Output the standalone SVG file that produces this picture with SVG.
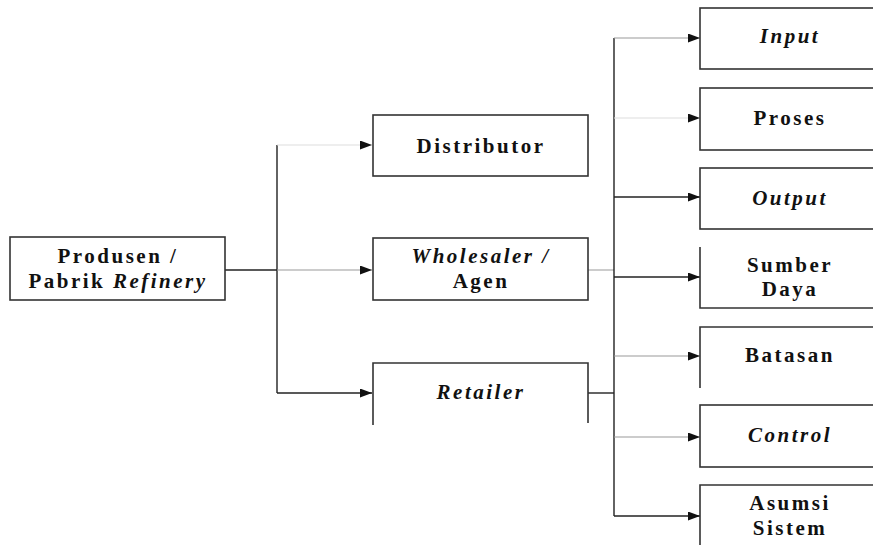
<svg xmlns="http://www.w3.org/2000/svg" width="873" height="545" viewBox="0 0 873 545">
<style>
.box{fill:#fff;stroke:#333;stroke-width:1.6}
.open{fill:none;stroke:#333;stroke-width:1.6}
.t{font-family:"Liberation Serif","Times New Roman",serif;font-weight:bold;font-size:21px;letter-spacing:2.5px;fill:#111;text-anchor:middle}
.i{font-style:italic}
.c{fill:none;stroke:#222;stroke-width:1.4}
.f{fill:none;stroke:#999;stroke-width:1}
.ff{fill:none;stroke:#ddd;stroke-width:1}
</style>
<defs>
<marker id="ah" markerWidth="12" markerHeight="9" refX="12" refY="4.5" orient="auto" markerUnits="userSpaceOnUse">
<path d="M0,0 L12,4.5 L0,9 Z" fill="#111"/>
</marker>
</defs>
<rect width="873" height="545" fill="#fff"/>
<g id="connectors">
<line class="c" x1="225" y1="270" x2="277" y2="270"/>
<line class="c" x1="277" y1="145" x2="277" y2="393"/>
<line class="ff" x1="277" y1="145" x2="372" y2="145" marker-end="url(#ah)"/>
<line class="f" x1="277" y1="270" x2="372" y2="270" marker-end="url(#ah)"/>
<line class="c" x1="277" y1="393" x2="372" y2="393" marker-end="url(#ah)"/>
<line class="f" x1="588" y1="270" x2="614" y2="270"/>
<line class="c" x1="588" y1="393" x2="614" y2="393"/>
<line class="c" x1="614" y1="38" x2="614" y2="516"/>
<line class="f" x1="614" y1="38" x2="700" y2="38" marker-end="url(#ah)"/>
<line class="ff" x1="614" y1="118" x2="700" y2="118" marker-end="url(#ah)"/>
<line class="c" x1="614" y1="197" x2="700" y2="197" marker-end="url(#ah)"/>
<line class="c" x1="614" y1="277" x2="700" y2="277" marker-end="url(#ah)"/>
<line class="f" x1="614" y1="356" x2="700" y2="356" marker-end="url(#ah)"/>
<line class="f" x1="614" y1="437" x2="700" y2="437" marker-end="url(#ah)"/>
<line class="c" x1="614" y1="516" x2="700" y2="516" marker-end="url(#ah)"/>
</g>
<g id="produsen">
<rect class="box" x="10" y="237" width="215" height="63"/>
<text class="t" x="118" y="263">Produsen /</text>
<text class="t" x="118" y="288">Pabrik <tspan class="i">Refinery</tspan></text>
</g>
<g id="distributor">
<rect class="box" x="373" y="115" width="215" height="61"/>
<text class="t" x="481" y="153">Distributor</text>
</g>
<g id="wholesaler">
<rect class="box" x="373" y="238" width="215" height="62"/>
<text class="t i" x="481" y="263">Wholesaler /</text>
<text class="t" x="481" y="288">Agen</text>
</g>
<g id="retailer">
<path class="open" d="M373,425 V363 H588 V423"/>
<text class="t i" x="481" y="399">Retailer</text>
</g>
<g id="input">
<rect class="box" x="700" y="8" width="180" height="61"/>
<text class="t i" x="790" y="43">Input</text>
</g>
<g id="proses">
<rect class="box" x="700" y="88" width="180" height="62"/>
<text class="t" x="790" y="125">Proses</text>
</g>
<g id="output">
<rect class="box" x="700" y="168" width="180" height="61"/>
<text class="t i" x="790" y="205">Output</text>
</g>
<g id="sumber-daya">
<path class="open" d="M700,247 V308 H880"/>
<text class="t" x="790" y="272">Sumber</text>
<text class="t" x="790" y="296">Daya</text>
</g>
<g id="batasan">
<path class="open" d="M700,388 V327 H880"/>
<text class="t" x="790" y="362">Batasan</text>
</g>
<g id="control">
<rect class="box" x="700" y="405" width="180" height="62"/>
<text class="t i" x="790" y="442">Control</text>
</g>
<g id="asumsi">
<path class="open" d="M700,550 V485 H880"/>
<text class="t" x="790" y="510">Asumsi</text>
<text class="t" x="790" y="535">Sistem</text>
</g>
</svg>
